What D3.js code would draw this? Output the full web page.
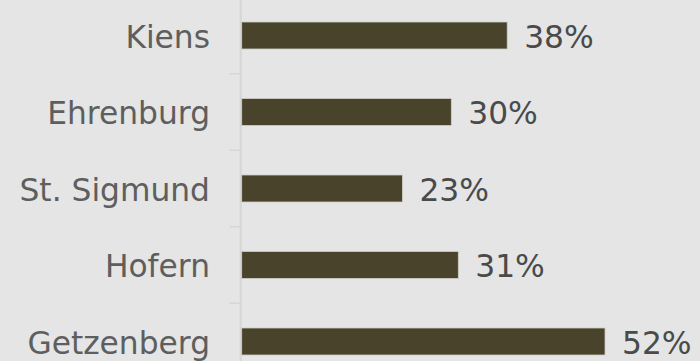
<!DOCTYPE html>
<html>
<head>
<meta charset="utf-8">
<script src="https://cdn.jsdelivr.net/npm/d3@7"></script>
<style>
  html, body { margin: 0; padding: 0; background: #e4e5e4; }
  svg { display: block; }
</style>
</head>
<body>
<svg id="chart" width="700" height="361"></svg>
<script>
// Share per village
const categories = ["Kiens", "Ehrenburg", "St. Sigmund", "Hofern", "Getzenberg"];
const values = [38, 30, 23, 31, 52];

const W = 700, H = 361;
const svg = d3.select("#chart");

svg.append("rect").attr("width", W).attr("height", H).attr("fill", "#e4e5e4");

const x0 = 241.7;
const x = d3.scaleLinear().domain([0, 100]).range([x0, x0 + 698.7]);

const y = d3.scaleBand()
  .domain(categories)
  .range([-2.75, 379.75])
  .paddingInner(0.647)
  .paddingOuter(0.3235);

const step = y.step();
const bandStart = y.range()[0];

// vertical axis line
svg.append("line")
  .attr("x1", x0 - 1).attr("x2", x0 - 1)
  .attr("y1", 0).attr("y2", H)
  .attr("stroke", "#d6d6d5").attr("stroke-width", 2);

// tick marks at band boundaries
const boundaries = d3.range(1, categories.length).map(i => bandStart + i * step);
svg.selectAll(".tick")
  .data(boundaries)
  .join("line")
  .attr("class", "tick")
  .attr("x1", x0 - 12).attr("x2", x0 - 2)
  .attr("y1", d => d).attr("y2", d => d)
  .attr("stroke", "#d6d6d5").attr("stroke-width", 1.5);

// bars
svg.selectAll(".bar")
  .data(categories)
  .join("rect")
  .attr("class", "bar")
  .attr("x", x(0))
  .attr("y", d => y(d))
  .attr("width", (d, i) => x(values[i]) - x(0))
  .attr("height", y.bandwidth())
  .attr("fill", "#4a432c")
  .attr("stroke", "#cfcfc8")
  .attr("stroke-width", 0.8);

// category labels
svg.selectAll(".cat")
  .data(categories)
  .join("text")
  .attr("class", "cat")
  .attr("x", 210)
  .attr("y", d => y(d) + y.bandwidth() / 2)
  .attr("dy", "0.39em")
  .attr("text-anchor", "end")
  .attr("font-family", "DejaVu Sans, Verdana, sans-serif")
  .attr("font-size", 31.3)
  .attr("fill", "#5e5e5e")
  .text(d => d);

// value labels
svg.selectAll(".val")
  .data(categories)
  .join("text")
  .attr("class", "val")
  .attr("x", (d, i) => x(values[i]) + 17)
  .attr("y", d => y(d) + y.bandwidth() / 2)
  .attr("dy", "0.39em")
  .attr("font-family", "DejaVu Sans, Verdana, sans-serif")
  .attr("font-size", 31.3)
  .attr("fill", "#4a4a4a")
  .text((d, i) => values[i] + "%");
</script>
</body>
</html>
